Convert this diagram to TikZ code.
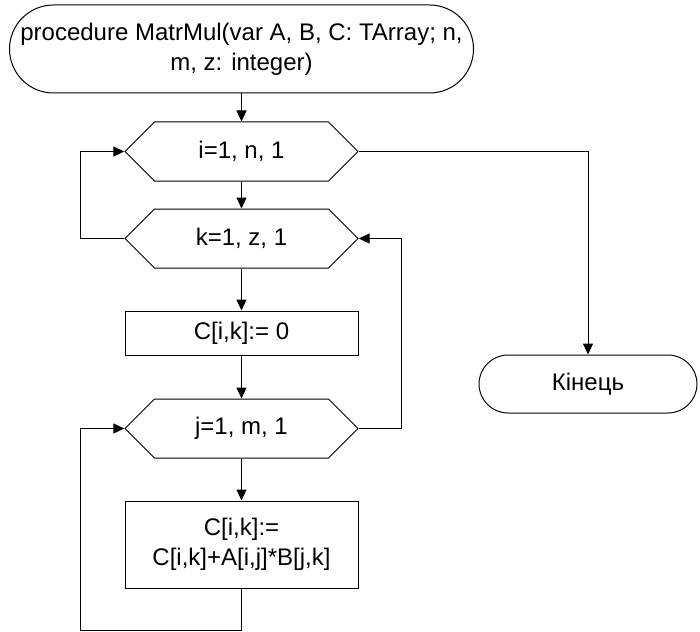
\documentclass[tikz,border=0pt]{standalone}
\usepackage{fontspec}
\setmainfont{Liberation Sans}
\usetikzlibrary{arrows.meta,shapes.misc,shapes.symbols}

\begin{document}
\begin{tikzpicture}[
    x=1pt, y=-1pt,  % координати в пікселях, вісь y донизу
    >={Triangle[length=11pt, width=10pt]},
    line width=1pt,
    font=\fontsize{24}{30}\selectfont,
    term/.style={draw, rounded rectangle, align=center, inner sep=2pt},
    loopbox/.style={draw, signal, signal to=west and east, signal pointer angle=90,
        minimum width=233pt, minimum height=59pt, inner sep=0pt},
    procbox/.style={draw, rectangle, align=center, minimum width=233pt, inner sep=0pt}
]
    \useasboundingbox (0,0) rectangle (700,631);

    % 1. Початок і кінець
    \node[term, minimum width=468pt, minimum height=88pt] (start) at (241.5,49)
        {procedure MatrMul(var A, B, C: TArray; n,\\ m, z: integer)};
    \node[term, minimum width=222pt, minimum height=58pt] (stop) at (588,384) {Кінець};

    % 2. Заголовки циклів: ім'я/y/текст
    \foreach \nm/\y/\txt in {i/151.5/{i=1, n, 1}, k/238.5/{k=1, z, 1}, j/428.5/{j=1, m, 1}} {
        \node[loopbox] (\nm) at (241.5,\y) {\txt};
    }

    % 3. Присвоєння
    \node[procbox, minimum height=44pt] (init) at (241.5,333) {C[i,k]:= 0};
    \node[procbox, minimum height=87pt] (body) at (241.5,544.5) {C[i,k]:=\\ C[i,k]+A[i,j]*B[j,k]};

    % 4. Основний потік
    \draw[->] (start.south) -- (i.north);
    \draw[->] (i.south) -- (k.north);
    \draw[->] (k.south) -- (init.north);
    \draw[->] (init.south) -- (j.north);
    \draw[->] (j.south) -- (body.north);
    \draw[->] (i.east) -| (stop.north);

    % 5. Повернення циклів
    \draw[->] (k.west) -- ++(-44,0) |- (i.west);
    \draw[->] (j.east) -- ++(43,0) |- (k.east);
    \draw[->] (body.south) -- ++(0,42) -| ([xshift=-44pt]j.west) -- (j.west);
\end{tikzpicture}
\end{document}
